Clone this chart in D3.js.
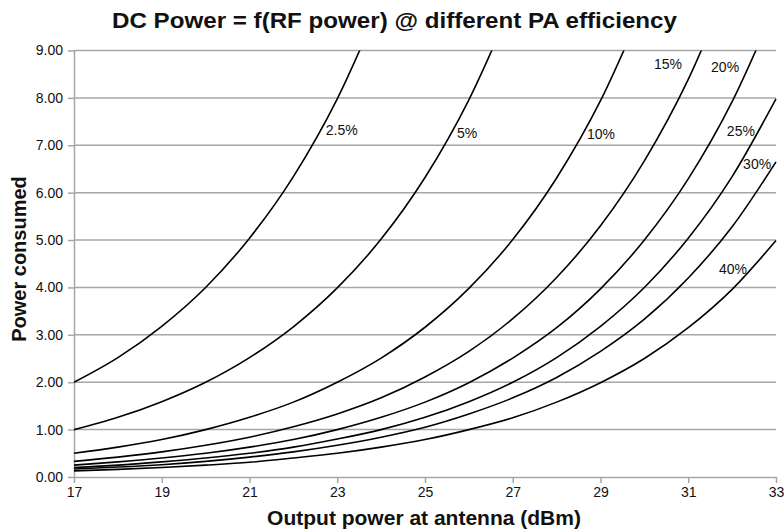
<!DOCTYPE html>
<html>
<head>
<meta charset="utf-8">
<script src="https://cdn.jsdelivr.net/npm/d3@7"></script>
<style>
    body { margin: 0; background: #fff; }
    text { font-family: "Liberation Sans", Arial, sans-serif; fill: #111; }
    .grid line { stroke: #a6a6a6; stroke-width: 1.5; }
    .axis path, .axis line { stroke: #a6a6a6; stroke-width: 1.5; }
    .curve { fill: none; stroke: #000; stroke-width: 1.6; }
</style>
</head>
<body>
<svg id="chart" width="784" height="531"></svg>
<script>
"use strict";

// output power at the antenna (dBm)
var dbm = [17, 18, 19, 20, 21, 22, 23, 24, 25, 26, 27, 28, 29, 30, 31, 32, 33];

// PA efficiency of each curve
var efficiency = ["2.5%", "5%", "10%", "15%", "20%", "25%", "30%", "40%"];

// power consumed (W), one value per dBm step
var eff2p5 = [2.00, 2.52, 3.18, 4.00, 5.04, 6.34, 7.98, 10.05];
var eff5 = [1.00, 1.26, 1.59, 2.00, 2.52, 3.17, 3.99, 5.02, 6.32, 7.96, 10.02];
var eff10 = [0.50, 0.63, 0.79, 1.00, 1.26, 1.58, 2.00, 2.51, 3.16, 3.98, 5.01, 6.31, 7.94, 10.00];
var eff15 = [0.33, 0.42, 0.53, 0.67, 0.84, 1.06, 1.33, 1.67, 2.11, 2.65, 3.34, 4.21, 5.30, 6.67, 8.39, 10.57];
var eff20 = [0.25, 0.32, 0.40, 0.50, 0.63, 0.79, 1.00, 1.26, 1.58, 1.99, 2.51, 3.15, 3.97, 5.00, 6.29, 7.92, 9.98];
var eff25 = [0.20, 0.25, 0.32, 0.40, 0.50, 0.63, 0.80, 1.00, 1.26, 1.59, 2.00, 2.52, 3.18, 4.00, 5.04, 6.34, 7.98];
var eff30 = [0.17, 0.21, 0.26, 0.33, 0.42, 0.53, 0.67, 0.84, 1.05, 1.33, 1.67, 2.10, 2.65, 3.33, 4.20, 5.28, 6.65];
var eff40 = [0.13, 0.16, 0.20, 0.25, 0.31, 0.40, 0.50, 0.63, 0.79, 1.00, 1.25, 1.58, 1.99, 2.50, 3.15, 3.96, 4.99];

var series = [eff2p5, eff5, eff10, eff15, eff20, eff25, eff30, eff40];

// axis ticks
var xTicks = [17, 19, 21, 23, 25, 27, 29, 31, 33];
var yTicks = [0, 1, 2, 3, 4, 5, 6, 7, 8, 9];

var svg = d3.select("#chart");

// plot area
var plot = { left: 74, right: 776, top: 50.5, bottom: 477 };

var xScale = d3.scaleLinear()
    .domain([17, 33])
    .range([plot.left, plot.right]);

var yScale = d3.scaleLinear()
    .domain([0, 9])
    .range([plot.bottom, plot.top]);

// horizontal grid lines
svg.append("g")
    .attr("class", "grid")
    .selectAll("line")
    .data(yTicks.slice(1))
    .enter().append("line")
    .attr("x1", plot.left)
    .attr("x2", plot.right)
    .attr("y1", function(d) { return yScale(d); })
    .attr("y2", function(d) { return yScale(d); });

// y axis
var yAxis = svg.append("g")
    .attr("class", "axis")
    .attr("transform", "translate(" + plot.left + ",0)")
    .call(d3.axisLeft(yScale).tickValues(yTicks).tickFormat(d3.format(".2f")).tickSize(6).tickSizeOuter(0));
yAxis.selectAll("text").style("font-size", "14px").attr("x", -11);

// x axis
var xAxis = svg.append("g")
    .attr("class", "axis")
    .attr("transform", "translate(0," + plot.bottom + ")")
    .call(d3.axisBottom(xScale).tickValues(xTicks).tickSize(6).tickSizeOuter(0));
xAxis.selectAll("text").style("font-size", "14px").attr("y", 10);

// clip curves to the plot area
svg.append("clipPath")
    .attr("id", "plotClip")
    .append("rect")
    .attr("x", plot.left)
    .attr("y", plot.top)
    .attr("width", plot.right - plot.left + 2)
    .attr("height", plot.bottom - plot.top);

var line = d3.line()
    .x(function(d, i) { return xScale(dbm[i]); })
    .y(function(d) { return yScale(d); })
    .curve(d3.curveMonotoneX);

svg.append("g")
    .attr("clip-path", "url(#plotClip)")
    .selectAll("path")
    .data(series)
    .enter().append("path")
    .attr("class", "curve")
    .attr("d", line);

// curve labels, placed in data units (text start, baseline)
var labelSpots = [[22.74, 7.21], [25.73, 7.15], [28.69, 7.13], [30.22, 8.61],
                  [31.52, 8.55], [31.88, 7.19], [32.25, 6.50], [31.70, 4.28]];

svg.append("g")
    .selectAll("text")
    .data(efficiency)
    .enter().append("text")
    .attr("x", function(d, i) { return xScale(labelSpots[i][0]); })
    .attr("y", function(d, i) { return yScale(labelSpots[i][1]); })
    .style("font-size", "14px")
    .text(function(d) { return d; });

// title
svg.append("text")
    .attr("x", 394.5)
    .attr("y", 28)
    .attr("text-anchor", "middle")
    .attr("textLength", 565)
    .attr("lengthAdjust", "spacingAndGlyphs")
    .style("font-size", "22px")
    .style("font-weight", "bold")
    .text("DC Power = f(RF power) @ different PA efficiency");

// axis titles
svg.append("text")
    .attr("x", 424)
    .attr("y", 525)
    .attr("text-anchor", "middle")
    .style("font-size", "21px")
    .style("font-weight", "bold")
    .text("Output power at antenna (dBm)");

svg.append("text")
    .attr("transform", "translate(26,259) rotate(-90)")
    .attr("text-anchor", "middle")
    .style("font-size", "20px")
    .style("font-weight", "bold")
    .text("Power consumed");
</script>
</body>
</html>
